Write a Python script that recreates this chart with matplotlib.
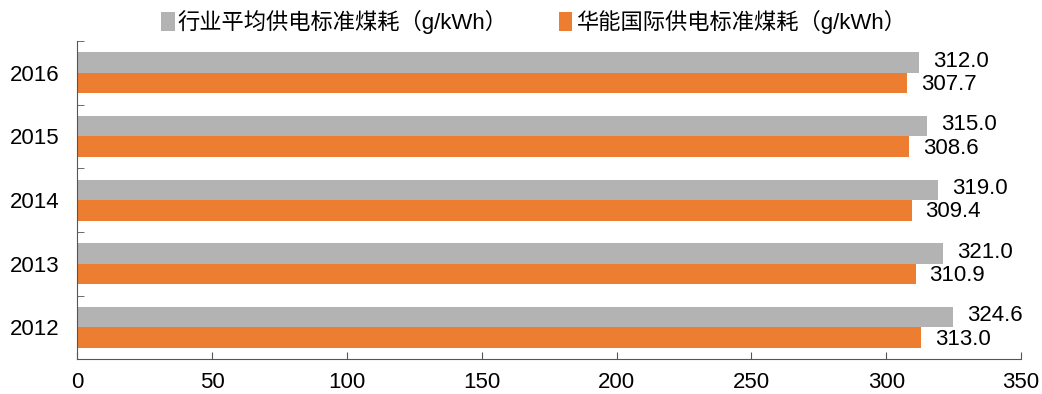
import numpy as np
import matplotlib
matplotlib.use('Agg')
import matplotlib.pyplot as plt

plt.rcParams['font.family'] = ['Liberation Sans', 'Noto Sans CJK SC', 'DejaVu Sans']

years = ['2012', '2013', '2014', '2015', '2016']
industry = [324.6, 321.0, 319.0, 315.0, 312.0]
huaneng = [313.0, 310.9, 309.4, 308.6, 307.7]
labels = ['行业平均供电标准煤耗（g/kWh）', '华能国际供电标准煤耗（g/kWh）']

gray = '#B3B3B3'
orange = '#ED7D31'

fig = plt.figure(figsize=(10.42, 3.94), dpi=100)
ax = fig.add_axes([0.074, 0.088, 0.906, 0.808])

y = np.arange(len(years))
h = 0.32
b1 = ax.barh(y + h / 2, industry, height=h, color=gray, label=labels[0])
b2 = ax.barh(y - h / 2, huaneng, height=h, color=orange, label=labels[1])

for v, yy in zip(industry, y):
    ax.annotate('%.1f' % v, (v, yy + h / 2), xytext=(10.5, 1), textcoords='offset points',
                va='center', ha='left', fontsize=16)
for v, yy in zip(huaneng, y):
    ax.annotate('%.1f' % v, (v, yy - h / 2), xytext=(10, -1), textcoords='offset points',
                va='center', ha='left', fontsize=16)

ax.set_xlim(0, 350)
ax.set_ylim(-0.5, len(years) - 0.5)
ax.set_xticks(np.arange(0, 351, 50))
ax.set_yticks(y)
ax.set_yticklabels(years)
ax.set_yticks(np.arange(-0.5, len(years), 1), minor=True)
ax.tick_params(axis='y', which='major', length=0, labelsize=16, pad=13)
ax.tick_params(axis='y', which='minor', direction='in', length=5, color='#555555')
ax.tick_params(axis='x', direction='in', length=5, labelsize=16, pad=9, color='#555555')

for s in ['top', 'right']:
    ax.spines[s].set_visible(False)
for s in ['left', 'bottom']:
    ax.spines[s].set_color('#555555')

fig.legend(handles=[b1, b2], loc='upper center', bbox_to_anchor=(0.512, 1.025), ncol=2,
           frameon=False, fontsize=16, handlelength=0.6, handleheight=0.9,
           handletextpad=0.15, columnspacing=2.3)

fig.savefig('out.png', dpi=100)
